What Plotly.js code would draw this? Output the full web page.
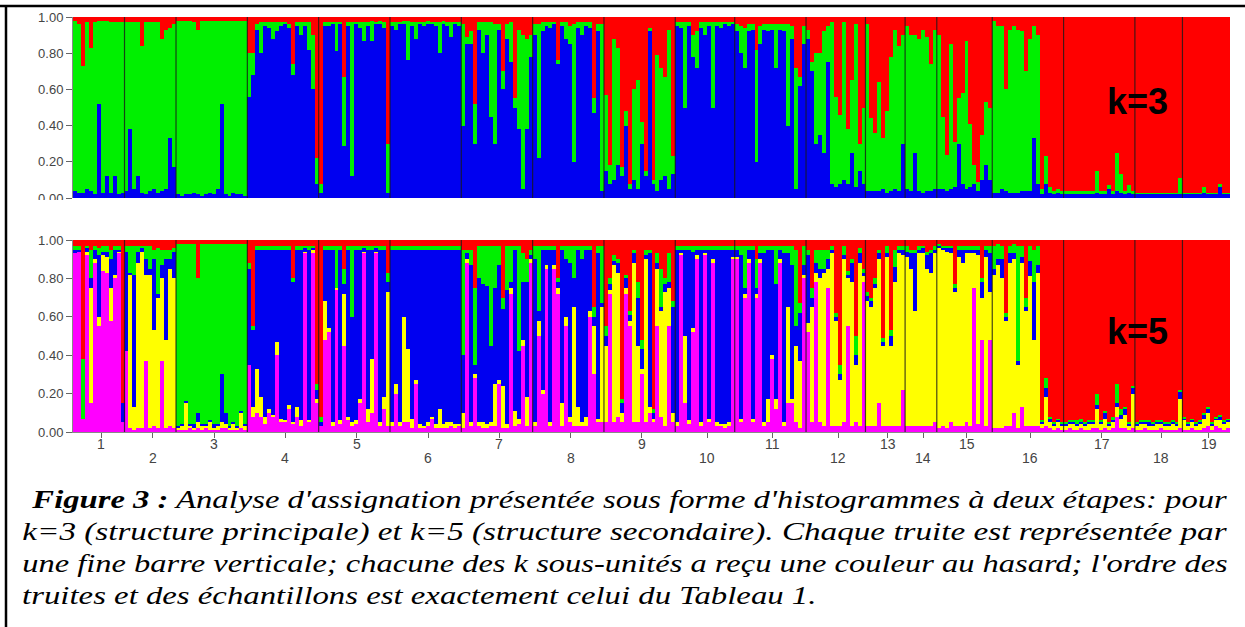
<!DOCTYPE html>
<html><head><meta charset="utf-8">
<script src="https://cdn.plot.ly/plotly-3.0.1.min.js"></script>
<style>html,body{margin:0;padding:0;background:#fff;}#chart{width:1245px;height:627px;}</style>
</head><body><div id="chart"></div>
<script>
// ---------------- DATA ----------------
const popLabels = ['1','2','3','4','5','6','7','8','9','10','11','12','13','14','15','16','17','18','19'];
// number of individuals (bars) drawn per sample
const popSizes = [13,13,18,18,18,18,18,18,18,15,18,15,10,8,14,18,18,12,12];

// k=3 membership (%) per individual, stacked bottom->top: blue, green, red
const k3_blue = [
 4,3,3,5,4,2,52,3,12,3,12,2,3,
 4,38,5,12,3,2,4,5,3,4,5,33,17,
 2,1,2,2,3,2,1,2,3,2,5,52,2,1,3,2,2,1,
 56,68,93,80,95,94,88,92,95,96,94,68,95,90,95,82,60,8,
 3,95,95,96,81,96,29,95,12,96,94,87,95,87,96,96,94,3,
 95,93,96,96,76,95,88,96,95,96,96,95,80,96,95,89,96,95,
 40,85,85,30,93,80,90,45,30,93,60,88,75,50,38,5,38,78,
 90,22,92,95,94,96,74,95,88,85,20,94,90,95,94,47,92,4,
 15,8,10,18,12,40,5,10,5,30,12,92,8,4,10,12,5,13,
 95,94,50,95,78,72,94,90,95,50,95,94,96,95,96,
 92,80,72,92,93,20,85,93,92,93,72,93,92,40,88,5,62,85,
 88,70,30,35,25,75,8,6,8,10,8,25,6,15,8,
 4,4,4,4,5,3,4,5,4,30,
 5,4,25,4,3,4,4,5,
 5,5,4,5,6,30,8,5,6,8,4,10,18,10,
 3,3,5,4,3,3,3,4,4,4,33,8,2,8,3,2,3,2,
 2,2,2,2,2,2,2,2,3,2,2,5,2,4,3,2,3,2,
 2,2,2,2,2,2,2,2,2,2,2,2,
 2,2,2,2,2,3,2,2,2,6,2,2];
const k3_green = [
 94,93,70,92,79,95,46,95,86,94,85,95,94,
 93,59,92,85,81,95,93,92,94,84,88,61,79,
 96,97,96,96,94,91,97,96,95,96,93,46,96,97,95,96,96,97,
 24,12,3,17,2,3,9,5,2,1,2,6,2,7,2,15,30,14,
 5,2,2,1,16,1,38,2,85,1,3,10,2,11,1,2,3,27,
 2,4,1,2,22,2,9,1,2,2,1,2,17,2,2,8,1,2,
 56,4,7,22,4,17,7,52,66,3,10,8,22,5,55,85,50,12,
 6,74,5,2,3,1,2,2,9,10,76,3,7,2,3,8,4,92,
 42,10,78,65,5,8,3,50,60,12,3,2,2,75,62,55,88,10,
 2,3,47,2,12,20,3,7,2,47,2,3,1,2,1,
 4,15,22,4,3,62,10,3,4,3,24,3,4,56,7,67,5,10,
 5,5,50,45,67,20,89,50,38,87,30,40,90,15,42,
 92,40,32,60,28,45,74,88,80,60,
 90,86,65,84,90,85,70,88,
 85,40,20,80,25,25,50,82,35,10,5,25,35,40,
 95,92,90,56,90,92,90,88,66,84,62,82,3,15,3,2,2,2,
 2,2,2,2,2,2,2,2,12,2,2,2,2,21,10,2,4,2,
 1,1,1,1,1,1,1,1,1,1,1,9,
 1,1,1,1,1,3,1,1,1,2,1,1];
const k3_red = [
 2,4,27,3,17,3,2,2,2,3,3,3,3,
 3,3,3,3,16,3,3,3,3,12,7,6,4,
 2,2,2,2,3,7,2,2,2,2,2,2,2,2,2,2,2,2,
 20,20,4,3,3,3,3,3,3,3,4,26,3,3,3,3,10,78,
 92,3,3,3,3,3,33,3,3,3,3,3,3,2,3,2,3,70,
 3,3,3,2,2,3,3,3,3,2,3,3,3,2,3,3,3,3,
 4,11,8,48,3,3,3,3,4,4,30,4,3,45,7,10,12,10,
 4,4,3,3,3,3,24,3,3,5,4,3,3,3,3,45,4,4,
 43,82,12,17,83,52,92,40,35,58,85,6,90,21,28,33,7,77,
 3,3,3,3,10,8,3,3,3,3,3,3,3,3,3,
 4,5,6,4,4,18,5,4,4,4,4,4,4,4,5,28,33,5,
 7,25,20,20,8,5,3,44,54,3,62,35,4,70,50,
 4,56,64,36,67,52,22,7,16,10,
 5,10,10,12,7,11,26,7,
 10,55,76,15,69,45,42,13,59,82,91,65,47,50,
 2,5,5,40,7,5,7,8,30,12,5,10,95,77,94,96,95,96,
 96,96,96,96,96,96,96,96,85,96,96,93,96,75,87,96,93,96,
 97,97,97,97,97,97,97,97,97,97,97,89,
 97,97,97,97,97,94,97,97,97,92,97,97];

// k=5 membership (%) per individual, stacked bottom->top: magenta, yellow, blue, green, red
const k5_magenta = [
 93,94,7,92,15,88,55,84,83,58,80,93,5,
 42,2,1,2,2,37,2,3,2,37,2,3,2,
 1,1,1,2,1,2,1,2,1,1,1,2,2,1,1,1,2,1,
 35,8,10,8,4,10,8,40,5,5,12,4,8,3,93,5,93,15,
 3,48,52,3,74,4,45,6,3,4,15,93,5,10,93,3,12,3,
 3,20,3,5,5,2,25,2,2,3,7,2,2,2,2,3,2,3,
 2,88,3,28,3,2,2,3,3,25,2,2,72,3,4,45,3,88,
 3,50,20,85,3,85,72,3,55,5,3,3,3,3,60,30,5,5,
 5,72,5,8,5,72,55,5,5,30,5,10,5,55,8,3,55,5,
 3,92,15,4,52,90,3,92,5,88,3,3,2,3,90,
 90,5,70,88,5,70,88,3,5,38,12,88,3,15,15,5,2,80,
 52,5,78,5,3,75,3,3,3,5,55,3,5,3,78,
 3,3,3,15,3,3,3,3,3,22,
 3,3,3,3,3,3,3,5,
 2,3,2,5,3,3,3,5,3,75,4,48,3,48,
 2,2,2,3,3,10,2,13,3,3,3,3,2,3,2,1,2,1,
 1,2,1,1,2,1,1,2,2,1,2,1,2,8,2,2,1,2,
 1,1,2,1,1,1,2,1,1,1,1,2,
 1,1,2,1,1,2,3,1,3,2,1,2];
const k5_yellow = [
 0,0,0,2,60,2,5,8,8,17,2,1,0,
 0,80,12,86,92,45,80,50,68,43,46,82,78,
 1,2,14,1,1,3,2,1,4,1,2,3,2,1,3,1,8,2,
 0,5,23,10,4,2,1,7,2,1,2,1,5,3,1,1,2,2,
 0,20,2,2,1,2,27,2,2,2,2,1,7,28,1,2,6,70,
 2,5,2,55,38,5,2,2,1,2,1,2,10,2,3,2,2,1,
 8,2,2,2,2,3,2,2,22,2,22,2,3,8,3,3,15,2,
 2,8,2,2,2,2,3,12,5,3,62,10,2,5,3,25,2,60,
 40,2,82,75,5,3,3,83,40,3,85,3,2,30,55,70,20,5,
 2,1,35,2,2,2,2,1,2,2,2,1,2,2,1,
 1,2,2,2,2,2,2,2,12,2,5,2,2,50,2,40,35,2,
 5,60,5,75,80,10,90,55,24,85,25,75,30,85,3,
 65,62,72,75,42,88,42,75,90,70,
 88,82,60,90,90,82,80,88,
 94,92,92,88,70,88,85,88,90,18,88,22,88,25,
 80,85,78,55,85,80,33,75,60,78,45,80,2,15,3,2,3,2,
 2,2,3,2,2,2,3,2,10,3,5,2,3,5,5,7,2,18,
 2,3,2,2,2,3,2,2,2,3,2,15,
 5,2,3,2,3,5,7,2,3,4,3,3];
const k5_blue = [
 2,1,0,2,5,5,32,2,3,15,13,1,10,
 52,1,69,6,2,8,3,37,2,7,42,5,14,
 1,1,1,1,2,5,1,1,1,2,1,25,6,1,1,1,1,1,
 50,40,62,77,87,83,86,48,88,89,81,73,82,89,2,89,1,5,
 2,27,41,90,0,89,5,87,55,89,78,2,83,57,2,90,77,5,
 90,70,90,35,52,88,68,91,92,90,87,91,83,91,90,90,91,91,
 30,3,82,5,75,72,72,40,50,60,40,70,3,84,35,30,60,2,
 85,5,73,8,90,8,3,80,30,80,15,82,85,87,32,5,86,2,
 5,3,2,5,5,5,3,5,25,10,2,80,3,3,2,4,3,55,
 90,2,45,89,40,3,90,2,88,5,90,91,91,90,4,
 4,85,3,5,88,3,3,88,78,55,60,5,88,28,70,10,25,5,
 35,5,5,5,2,5,2,2,3,2,2,10,5,5,2,
 3,3,2,3,2,2,5,8,2,3,
 3,8,30,2,3,7,10,2,
 1,1,2,3,2,4,7,2,2,2,3,8,4,20,
 3,3,10,2,5,3,2,3,2,8,30,4,1,5,2,1,1,1,
 1,1,1,1,1,1,1,1,2,1,3,1,1,2,2,3,1,3,
 1,1,1,2,1,1,1,1,1,1,1,4,
 1,1,1,1,1,2,2,1,1,2,1,1];
const k5_green = [
 2,2,31,1,15,2,4,3,3,5,2,2,0,
 3,14,15,3,1,7,12,5,24,8,5,5,2,
 95,94,82,94,94,70,94,94,92,94,94,68,88,95,93,95,87,94,
 3,2,2,2,2,2,2,2,2,2,2,2,2,2,1,2,1,3,
 3,2,2,2,22,2,8,2,37,2,2,1,2,2,1,2,2,5,
 2,2,2,2,2,2,2,2,2,2,2,2,2,2,2,2,2,2,
 55,2,8,40,17,20,21,52,22,10,6,23,19,2,55,15,12,3,
 7,34,2,2,2,2,2,2,7,9,17,2,7,2,2,5,4,30,
 5,3,3,2,2,2,2,2,8,5,3,2,2,5,20,3,15,3,
 2,2,2,2,3,2,2,2,2,2,2,2,2,2,2,
 2,5,22,2,2,15,4,4,2,2,20,2,4,4,10,40,5,10,
 3,5,7,10,10,5,2,2,5,5,2,2,10,3,2,
 2,2,3,2,2,4,3,9,2,2,
 3,2,2,2,1,2,2,2,
 1,1,1,1,2,2,2,2,2,2,2,2,2,4,
 12,8,7,2,4,5,60,6,5,8,17,10,1,5,1,1,1,1,
 1,1,1,2,2,1,1,1,6,1,1,1,2,10,3,1,1,1,
 1,1,1,1,1,1,1,1,1,1,1,1,
 1,1,1,1,1,1,1,1,1,1,1,1];
const k5_red = [
 3,3,62,3,5,3,4,3,3,5,3,3,85,
 3,3,3,3,3,3,3,5,4,5,5,5,4,
 2,2,2,2,2,20,2,2,2,2,2,2,2,2,2,2,2,2,
 12,45,3,3,3,3,3,3,3,3,3,20,3,3,3,3,3,75,
 92,3,3,3,3,3,15,3,3,3,3,3,3,3,3,3,3,17,
 3,3,3,3,3,3,3,3,3,3,3,3,3,3,3,3,3,3,
 5,5,5,25,3,3,3,3,3,3,30,3,3,3,3,7,10,5,
 3,3,3,3,3,3,20,3,3,3,3,3,3,3,3,35,3,3,
 45,20,8,10,83,18,37,5,22,52,5,5,88,7,15,20,7,32,
 3,3,3,3,3,3,3,3,3,3,3,3,3,3,3,
 3,3,3,3,3,10,3,3,3,3,3,3,3,3,3,5,33,3,
 5,25,5,5,5,5,3,38,65,3,16,10,50,4,15,
 27,30,20,5,51,3,47,5,3,3,
 3,5,5,3,3,6,5,3,
 2,3,3,3,23,3,3,3,3,3,3,20,3,3,
 3,2,3,38,3,2,3,3,30,3,5,3,94,72,92,95,93,95,
 95,94,94,94,93,95,94,94,80,94,89,95,92,75,88,87,95,76,
 95,94,94,94,95,94,94,95,95,94,95,78,
 92,95,93,95,94,90,87,95,92,91,94,93];

const yTickVals = [0, 0.2, 0.4, 0.6, 0.8, 1.0];
const panelLabels = ['k=3', 'k=5'];
const captionLines = [
 "<b>Figure 3 :</b> Analyse d'assignation présentée sous forme d'histogrammes à deux étapes: pour",
 "k=3 (structure principale) et k=5 (structure secondaire). Chaque truite est représentée par",
 "une fine barre verticale; chacune des k sous-unités a reçu une couleur au hasard; l'ordre des",
 "truites et des échantillons est exactement celui du Tableau 1."
];

// ---------------- STYLE ----------------
const RED='#FF0000', GREEN='#00F000', BLUE='#0000F0', MAG='#FF00FF', YEL='#FFFF00';
const W=1245, H=627;
const px = v => v/W, py = v => 1 - v/H;
const xDom = [px(73), px(1230)];

const N = popSizes.reduce((a,b)=>a+b,0);
const idx = Array.from({length:N}, (_,i)=>i);

const traces = [];
function addStack(series, colors, xa, ya){
  series.forEach((s,i)=>traces.push({
    type:'bar', x: idx, y: s.map(v=>v/100), xaxis: xa, yaxis: ya, width: 1,
    marker:{color: colors[i], line:{width:0}}, hoverinfo:'skip'
  }));
}
addStack([k3_blue, k3_green, k3_red], [BLUE, GREEN, RED], 'x', 'y');
addStack([k5_magenta, k5_yellow, k5_blue, k5_green, k5_red], [MAG, YEL, BLUE, GREEN, RED], 'x2', 'y2');

// population boundaries & centers derived from popSizes
const starts = []; let acc = 0;
popSizes.forEach(n => { starts.push(acc); acc += n; });
const centers = popSizes.map((n,i) => starts[i] + (n-1)/2 + 0.6);

const shapes = [];
starts.slice(1).forEach(s => {
  [['x','y'],['x2','y2']].forEach(([xr,yr]) => shapes.push({
    type:'line', xref:xr, yref:yr, x0:s-0.5, x1:s-0.5, y0:0, y1:1,
    line:{color:'rgba(25,25,25,0.8)', width:1.2}
  }));
});
// outer frame (top + left edges of the figure box)
shapes.push({type:'line', xref:'paper', yref:'paper', x0:0, x1:1, y0:py(6), y1:py(6), line:{color:'#000', width:2.5}});
shapes.push({type:'line', xref:'paper', yref:'paper', x0:px(6), x1:px(6), y0:0, y1:py(5), line:{color:'#000', width:2.5}});
// top panel is cropped just under its 0.00 label
shapes.push({type:'rect', xref:'paper', yref:'paper', x0:px(14), x1:px(70), y0:py(216), y1:py(200), fillcolor:'#fff', line:{width:0}, layer:'above'});

const annotations = [];
popLabels.forEach((lab,i) => annotations.push({
  xref:'x2', yref:'paper', x: centers[i], y: py(i%2===0 ? 444 : 458), text: lab, showarrow:false,
  xanchor:'center', yanchor:'middle', font:{family:'Liberation Sans, Arial, sans-serif', size:14, color:'#444'}
}));
annotations.push({xref:'paper', yref:'paper', x:px(1137), y:py(102), text:panelLabels[0], showarrow:false,
  xanchor:'center', yanchor:'middle', font:{family:'Liberation Sans, Arial, sans-serif', size:36, color:'#000', weight:700}});
annotations.push({xref:'paper', yref:'paper', x:px(1137), y:py(331), text:panelLabels[1], showarrow:false,
  xanchor:'center', yanchor:'middle', font:{family:'Liberation Sans, Arial, sans-serif', size:36, color:'#000', weight:700}});
const capStart = annotations.length;
const capY = [499, 531, 563, 595];
const capX = [30, 21, 21, 21];
captionLines.forEach((t,j) => annotations.push({
  xref:'paper', yref:'paper', x:px(capX[j]), y:py(capY[j]), text:t, showarrow:false,
  xanchor:'left', yanchor:'middle', borderpad:0,
  font:{family:'Liberation Serif, Times New Roman, serif', size:26, color:'#000', style:'italic'}
}));

const yAxisCommon = {
  range:[0,1], tickvals:yTickVals, tickformat:'.2f', ticks:'outside', ticklen:6, tickcolor:'#666',
  showline:true, linecolor:'#888', linewidth:1, showgrid:false, zeroline:false, fixedrange:true,
  tickfont:{family:'Liberation Sans, Arial, sans-serif', size:13, color:'#444'}
};
const layout = {
  width:W, height:H, margin:{l:0,r:0,t:0,b:0}, paper_bgcolor:'#fff', plot_bgcolor:'#fff',
  barmode:'stack', bargap:0, showlegend:false,
  xaxis:{domain:xDom, range:[-0.5, N-0.5], anchor:'y', showticklabels:false, ticks:'', showline:false,
         showgrid:false, zeroline:false, fixedrange:true},
  yaxis:Object.assign({domain:[py(198), py(17)], anchor:'x'}, yAxisCommon),
  xaxis2:{domain:xDom, range:[-0.5, N-0.5], anchor:'y2', tickvals:centers, ticks:'outside', ticklen:5,
          tickcolor:'#666', showticklabels:false, showline:true, linecolor:'#888', linewidth:1,
          showgrid:false, zeroline:false, fixedrange:true},
  yaxis2:Object.assign({domain:[py(432), py(240)], anchor:'x2'}, yAxisCommon),
  shapes: shapes, annotations: annotations
};

Plotly.newPlot('chart', traces, layout, {displayModeBar:false, staticPlot:true, responsive:false}).then(gd => {
  // justify caption lines: stretch each justified line horizontally so it ends at the right margin
  const rightEdge = 1228;
  const scales = [];
  const els = [];
  for (let j=0; j<captionLines.length; j++) {
    els.push(gd.querySelector('.annotation[data-index="' + (capStart+j) + '"] text'));
  }
  const svgLeft = gd.getBoundingClientRect().left;
  els.forEach((t,j) => {
    if (!t) return;
    const r = t.getBoundingClientRect();
    if (j < captionLines.length-1) scales[j] = (rightEdge - (r.left - svgLeft)) / r.width;
  });
  const good = scales.filter(Boolean);
  const avg = good.reduce((a,b)=>a+b,0) / Math.max(1, good.length);
  els.forEach((t,j) => {
    if (!t) return;
    const s = scales[j] || avg;
    const bb = t.getBBox();
    const prev = t.getAttribute('transform') || '';
    t.setAttribute('transform', (prev + ' translate(' + (bb.x*(1-s)) + ',0) scale(' + s + ',1)').trim());
  });
});
</script>
</body></html>
